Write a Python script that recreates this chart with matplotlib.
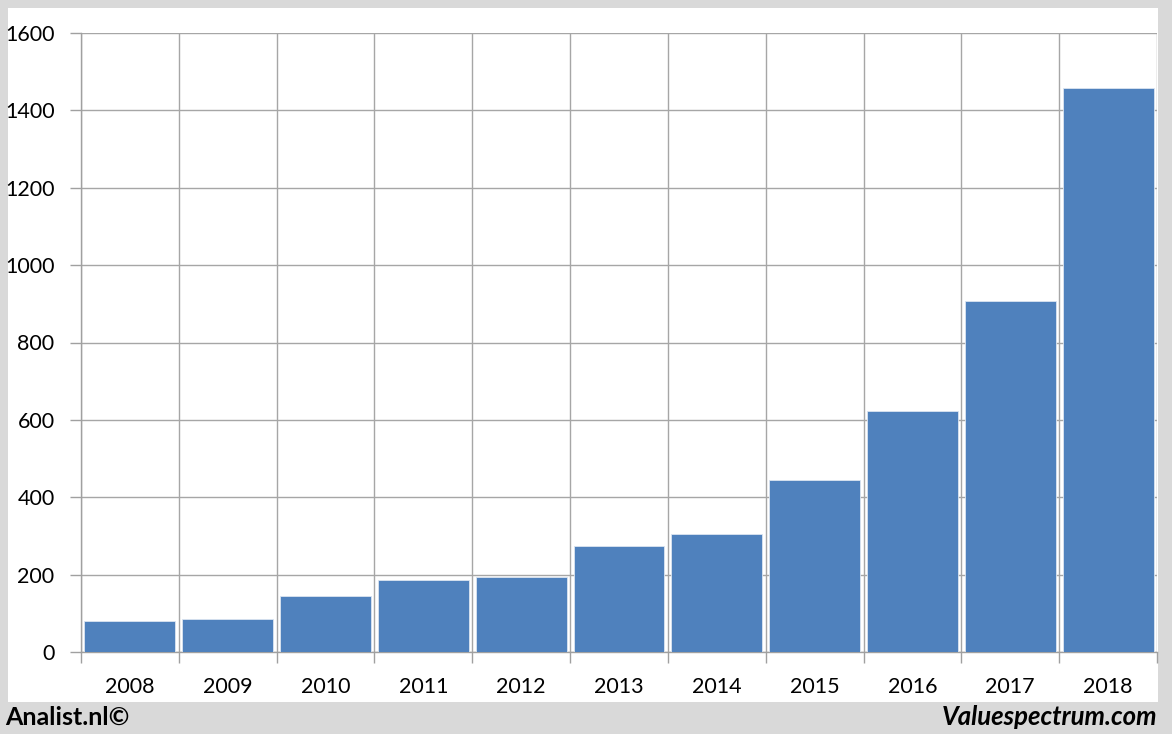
import numpy as np
from matplotlib import pyplot as plt
from matplotlib.patches import Rectangle

years = ['2008', '2009', '2010', '2011', '2012', '2013', '2014', '2015', '2016', '2017', '2018']
values = [80, 85, 145, 186, 195, 274, 304, 444, 624, 907, 1457]
yticks = [0, 200, 400, 600, 800, 1000, 1200, 1400, 1600]

plt.rcParams['font.family'] = ['Lato', 'DejaVu Sans']

fig = plt.figure(figsize=(11.72, 7.34), dpi=100)
fig.patch.set_facecolor('#d9d9d9')
# white panel behind the chart
fig.patches.append(Rectangle((8 / 1172, 1 - 702 / 734), (1158 - 8) / 1172, (702 - 8) / 734,
                             transform=fig.transFigure, facecolor='white', edgecolor='none', zorder=-10))

ax = fig.add_axes([81 / 1172, 1 - 652 / 734, (1157 - 81) / 1172, (652 - 33) / 734])
ax.set_zorder(5)
ax.set_facecolor('white')
x = np.arange(len(years))
ax.bar(x, values, width=0.93, color='#4f81bd', edgecolor='#dbe5f1', linewidth=0.6, zorder=3)

ax.set_xlim(-0.5, len(years) - 0.5)
ax.set_ylim(0, 1600)
ax.set_yticks(yticks)
ax.set_yticklabels([str(v) for v in yticks], fontsize=15.5)
ax.set_xticks(x)
ax.set_xticklabels(years, fontsize=15.5)
ax.tick_params(axis='x', which='major', length=0, pad=18)
ax.set_xticks(np.arange(-0.5, len(years)), minor=True)
ax.tick_params(axis='x', which='minor', length=8, color='#a0a0a0', width=1)
ax.tick_params(axis='y', length=8, color='#a0a0a0', width=1, pad=11)

ax.grid(axis='y', color='#a6a6a6', linewidth=1, zorder=1)
ax.grid(axis='x', which='minor', color='#a6a6a6', linewidth=1, zorder=1)
for s in ['top', 'right']:
    ax.spines[s].set_visible(False)
for s in ['left', 'bottom']:
    ax.spines[s].set_color('#a0a0a0')
    ax.spines[s].set_linewidth(1)

fig.text(5 / 1172, 1 - 717 / 734, 'Analist.nl\u00a9', fontsize=18, fontweight='bold',
         ha='left', va='center')
fig.text(1157 / 1172, 1 - 717 / 734, 'Valuespectrum.com', fontsize=18.5, fontweight='bold',
         style='italic', ha='right', va='center')

fig.savefig('out.png', dpi=100, facecolor=fig.get_facecolor())
